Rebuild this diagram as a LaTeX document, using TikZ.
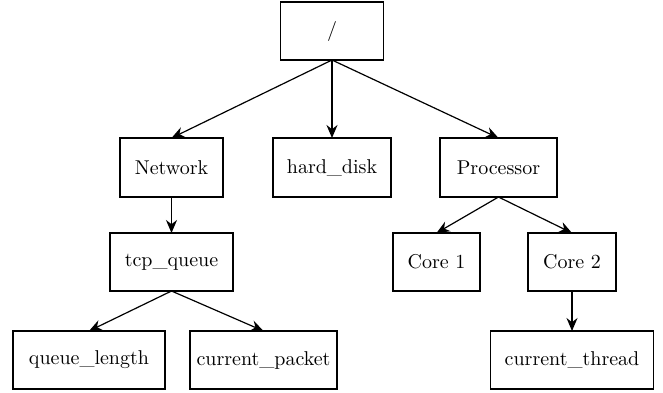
\documentclass[tikz,border=0pt]{standalone}
\usetikzlibrary{arrows.meta}
\begin{document}
\begin{tikzpicture}[x=0.5pt,y=-0.5pt,
  box/.style={draw, line width=0.6pt, inner sep=0pt, outer sep=0pt, font=\fontsize{10}{12}\selectfont},
  arr/.style={line width=0.6pt, -{Stealth[length=6.5pt,width=5.5pt]}}]
\useasboundingbox (0,0) rectangle (663,392);
\node[box, minimum width=51.5pt, minimum height=29pt] (root) at (332,31) {/};
\node[box, minimum width=51.5pt, minimum height=29.5pt] (net) at (171.5,167.5) {Network};
\node[box, minimum width=59pt, minimum height=29.5pt] (hd) at (332,167.5) {hard\_disk};
\node[box, minimum width=58.5pt, minimum height=29.5pt] (proc) at (498.5,167.5) {Processor};
\node[box, minimum width=61.5pt, minimum height=29pt] (tcp) at (171.5,262) {tcp\_queue};
\node[box, minimum width=43.5pt, minimum height=29pt] (c1) at (436.5,262) {Core 1};
\node[box, minimum width=44pt, minimum height=29pt] (c2) at (572,262) {Core 2};
\node[box, minimum width=76pt, minimum height=29pt] (ql) at (89,360) {queue\_length};
\node[box, minimum width=73.5pt, minimum height=29pt] (cp) at (263.5,360) {current\_packet};
\node[box, minimum width=81.5pt, minimum height=29pt] (ct) at (572,360) {current\_thread};
\draw[arr] (root.south) -- (net.north);
\draw[arr] (root.south) -- (hd.north);
\draw[arr] (root.south) -- (proc.north);
\draw[arr] (net.south) -- (tcp.north);
\draw[arr] (tcp.south) -- (ql.north);
\draw[arr] (tcp.south) -- (cp.north);
\draw[arr] (proc.south) -- (c1.north);
\draw[arr] (proc.south) -- (c2.north);
\draw[arr] (c2.south) -- (ct.north);
\end{tikzpicture}
\end{document}
